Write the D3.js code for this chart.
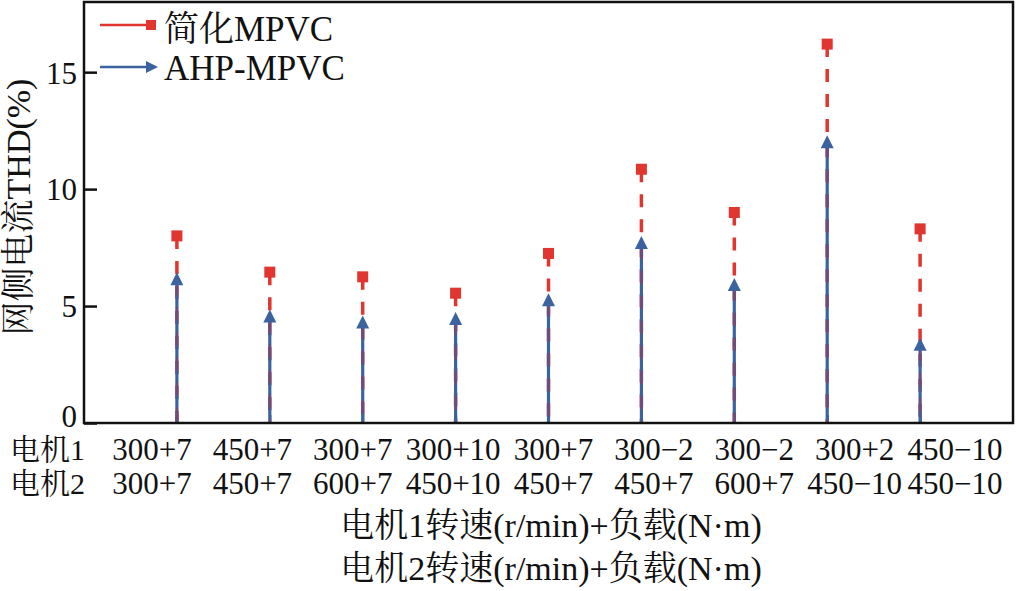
<!DOCTYPE html>
<html>
<head>
<meta charset="utf-8">
<script src="https://cdn.jsdelivr.net/npm/d3@7"></script>
<style>
  html, body { margin: 0; padding: 0; background: #fff; }
  svg { display: block; }
  text { font-family: "Liberation Serif", "Times New Roman", "Noto Serif CJK SC", "Noto Sans CJK SC", serif; fill: #111; }
</style>
</head>
<body>
<svg id="chart" width="1016" height="591"></svg>
<script>
// ---- data ----
const categories = [1, 2, 3, 4, 5, 6, 7, 8, 9];
const motor1Labels = ["300+7", "450+7", "300+7", "300+10", "300+7", "300\u22122", "300\u22122", "300+2", "450\u221210"];
const motor2Labels = ["300+7", "450+7", "600+7", "450+10", "450+7", "450+7", "600+7", "450\u221210", "450\u221210"];
const simplifiedMPVC = [8.0, 6.45, 6.25, 5.55, 7.25, 10.85, 9.0, 16.2, 8.3];
const ahpMPVC = [6.45, 4.85, 4.6, 4.75, 5.55, 8.0, 6.2, 12.3, 3.65];
const yTicks = [0, 5, 10, 15];
const seriesNames = ["简化MPVC", "AHP-MPVC"];
const rowNames = ["电机1", "电机2"];
const xTitle = ["电机1转速(r/min)+负载(N·m)", "电机2转速(r/min)+负载(N·m)"];
const yTitle = "网侧电流THD(%)";

const RED = "#e0362f";
const BLUE = "#3b63a0";

const svg = d3.select("#chart");
const L = 84, R = 1013, T = 2, B = 423;

const x = d3.scaleLinear().domain([0, 10]).range([L, R]);
const y = d3.scaleLinear().domain([0, 18]).range([B, T]);
const labelX = d3.scalePoint().domain(categories).range([152, 955]);

// y axis
const yAxis = d3.axisLeft(y).tickValues(yTicks).tickSizeInner(-13).tickSizeOuter(0).tickPadding(9).tickFormat(d3.format("d"));
const gy = svg.append("g").attr("transform", `translate(${L},0)`).call(yAxis);
gy.select(".domain").remove();
gy.selectAll(".tick line").attr("stroke", "#111").attr("stroke-width", 2.5);
gy.selectAll(".tick text").style("font-size", "31px").attr("x", -7)
  .attr("dy", d => d === 0 ? "3px" : "0.35em");

// x axis ticks (inward)
const xAxis = d3.axisBottom(x).tickValues(categories).tickSizeInner(-8).tickSizeOuter(0).tickFormat("");
const gx = svg.append("g").attr("transform", `translate(0,${B})`).call(xAxis);
gx.select(".domain").remove();
gx.selectAll(".tick line").attr("stroke", "#111").attr("stroke-width", 2);

// stems
const g = svg.append("g");
categories.forEach((c, i) => {
  const cx = x(c);
  g.append("line")
    .attr("x1", cx).attr("x2", cx)
    .attr("y1", y(simplifiedMPVC[i])).attr("y2", y(0))
    .attr("stroke", RED).attr("stroke-width", 3.5)
    .attr("stroke-dasharray", "13,12");
  g.append("line")
    .attr("x1", cx).attr("x2", cx)
    .attr("y1", y(ahpMPVC[i]) + 10).attr("y2", y(0))
    .attr("stroke", BLUE).attr("stroke-width", 3.2);
  g.append("line")
    .attr("x1", cx).attr("x2", cx)
    .attr("y1", y(ahpMPVC[i]) + 10).attr("y2", y(0))
    .attr("stroke", "#b03050").attr("stroke-opacity", 0.45).attr("stroke-width", 2.5)
    .attr("stroke-dasharray", "13,12");
  const ty = y(ahpMPVC[i]);
  g.append("path")
    .attr("d", `M${cx},${ty} L${cx - 6.5},${ty + 13} L${cx + 6.5},${ty + 13} Z`)
    .attr("fill", BLUE);
  const sy = y(simplifiedMPVC[i]);
  g.append("rect")
    .attr("x", cx - 5.5).attr("y", sy - 5.5)
    .attr("width", 11).attr("height", 11)
    .attr("fill", RED);
});

// frame
svg.append("rect")
  .attr("x", L).attr("y", T).attr("width", R - L).attr("height", B - T)
  .attr("fill", "none").attr("stroke", "#111").attr("stroke-width", 2.5);

// legend
const leg = svg.append("g");
leg.append("line").attr("x1", 100).attr("x2", 150).attr("y1", 25).attr("y2", 25)
  .attr("stroke", RED).attr("stroke-width", 2.5);
leg.append("rect").attr("x", 146).attr("y", 20).attr("width", 10).attr("height", 10).attr("fill", RED);
leg.append("line").attr("x1", 100).attr("x2", 150).attr("y1", 67).attr("y2", 67)
  .attr("stroke", BLUE).attr("stroke-width", 2.5);
leg.append("path").attr("d", "M158,67 L146,61 L146,73 Z").attr("fill", BLUE);
leg.append("text").attr("x", 164).attr("y", 41).style("font-size", "35px").text(seriesNames[0]);
leg.append("text").attr("x", 164).attr("y", 80).style("font-size", "35px").text(seriesNames[1]);

// category labels
const rowsY = [460, 494];
[motor1Labels, motor2Labels].forEach((labels, r) => {
  svg.append("text").attr("x", 10).attr("y", rowsY[r]).style("font-size", "30px").text(rowNames[r]);
  svg.append("g").selectAll("text").data(categories).join("text")
    .attr("x", d => labelX(d)).attr("y", rowsY[r])
    .attr("text-anchor", "middle").style("font-size", "31px")
    .text((d, i) => labels[i]);
});

// x title
svg.append("text").attr("x", 551).attr("y", 537).attr("text-anchor", "middle").style("font-size", "34px").text(xTitle[0]);
svg.append("text").attr("x", 551).attr("y", 580).attr("text-anchor", "middle").style("font-size", "34px").text(xTitle[1]);

// y title
svg.append("text")
  .attr("transform", `translate(30,207) rotate(-90)`)
  .attr("text-anchor", "middle").style("font-size", "34px").text(yTitle);
</script>
</body>
</html>
